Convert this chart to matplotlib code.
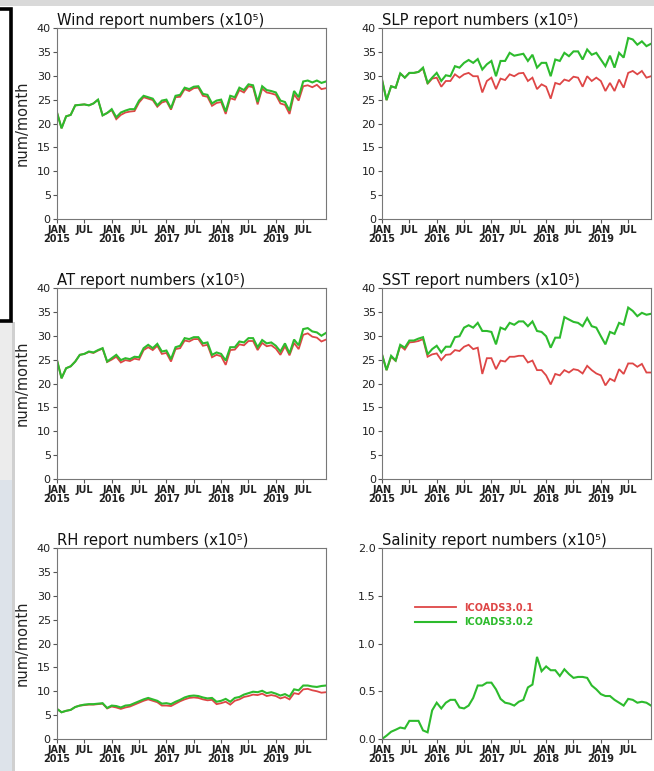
import matplotlib
matplotlib.use("Agg")
import matplotlib.pyplot as plt
from matplotlib import font_manager
from matplotlib.patches import Rectangle
from matplotlib.lines import Line2D
import numpy as np

# ---------------- data ----------------
months = np.arange(60)  # Jan 2015 .. Dec 2019
xtick_pos = [0, 6, 12, 18, 24, 30, 36, 42, 48, 54]
xtick_labels = ["JAN\n2015", "JUL", "JAN\n2016", "JUL", "JAN\n2017", "JUL",
                "JAN\n2018", "JUL", "JAN\n2019", "JUL"]

wind_v302 = [22.3, 19.0, 21.5, 21.8, 23.8, 23.9, 24.0, 23.8, 24.2, 25.0,
             21.7, 22.2, 23.0, 21.3, 22.3, 22.7, 23.0, 23.0, 24.8, 25.8,
             25.5, 25.2, 23.8, 24.8, 25.0, 23.2, 25.8, 26.0, 27.5, 27.2,
             27.7, 27.8, 26.2, 26.0, 24.2, 24.8, 25.0, 22.5, 25.8, 25.5,
             27.5, 27.0, 28.2, 28.0, 24.5, 27.8, 27.0, 26.8, 26.5, 24.8,
             24.5, 22.7, 26.8, 25.5, 28.8, 29.0, 28.6, 29.0, 28.5, 28.8]
wind_v301 = [22.3, 19.0, 21.5, 21.8, 23.8, 23.9, 24.0, 23.8, 24.2, 25.0,
             21.7, 22.2, 22.8, 20.9, 21.8, 22.3, 22.5, 22.6, 24.4, 25.5,
             25.2, 24.9, 23.5, 24.4, 24.7, 22.9, 25.5, 25.6, 27.2, 26.8,
             27.4, 27.5, 25.8, 25.6, 23.7, 24.3, 24.5, 22.0, 25.3, 25.0,
             27.0, 26.5, 27.8, 27.6, 24.0, 27.3, 26.5, 26.3, 26.0, 24.2,
             23.9, 22.0, 26.1, 24.8, 27.8, 28.0, 27.6, 28.1, 27.2, 27.4]

slp_v302 = [29.2, 24.9, 27.8, 27.5, 30.5, 29.6, 30.6, 30.6, 30.8, 31.7,
            28.5, 29.6, 30.6, 28.9, 30.1, 29.9, 32.0, 31.7, 32.7, 33.3,
            32.7, 33.5, 31.3, 32.4, 33.1, 29.9, 33.1, 33.1, 34.8, 34.2,
            34.4, 34.6, 33.1, 34.4, 31.7, 32.7, 32.7, 29.9, 33.4, 33.1,
            34.8, 34.1, 35.1, 35.1, 33.4, 35.5, 34.4, 34.8, 33.4, 32.0,
            34.2, 31.7, 34.8, 33.8, 37.9, 37.6, 36.5, 37.2, 36.2, 36.7]
slp_v301 = [29.2, 24.9, 27.8, 27.5, 30.5, 29.6, 30.6, 30.6, 30.8, 31.5,
            28.3, 29.4, 29.6, 27.7, 28.9, 28.9, 30.3, 29.6, 30.3, 30.6,
            29.9, 29.9, 26.5, 28.9, 29.6, 27.2, 29.4, 29.1, 30.3, 29.9,
            30.5, 30.6, 28.9, 29.6, 27.2, 28.2, 27.7, 25.2, 28.5, 28.2,
            29.2, 28.9, 29.8, 29.6, 27.7, 29.9, 28.9, 29.6, 28.9, 26.8,
            28.5, 26.8, 29.2, 27.5, 30.6, 31.0, 30.3, 31.0, 29.6, 29.9]

at_v302 = [24.9, 21.1, 23.2, 23.6, 24.6, 26.0, 26.2, 26.7, 26.5, 27.0,
           27.4, 24.6, 25.3, 26.0, 24.9, 25.3, 25.1, 25.6, 25.5, 27.4,
           28.1, 27.4, 28.3, 26.7, 26.9, 25.1, 27.6, 27.9, 29.5, 29.3,
           29.7, 29.7, 28.4, 28.6, 26.0, 26.5, 26.2, 24.8, 27.6, 27.6,
           28.8, 28.6, 29.5, 29.5, 27.6, 29.1, 28.4, 28.6, 27.9, 26.7,
           28.4, 26.3, 29.2, 28.0, 31.4, 31.6, 30.9, 30.7, 30.0, 30.6]
at_v301 = [24.9, 21.1, 23.2, 23.6, 24.6, 26.0, 26.2, 26.6, 26.4, 26.9,
           27.3, 24.5, 25.0, 25.6, 24.4, 24.9, 24.7, 25.2, 25.0, 27.0,
           27.6, 27.0, 27.9, 26.2, 26.4, 24.6, 27.2, 27.4, 29.0, 28.8,
           29.3, 29.3, 27.9, 28.1, 25.5, 26.0, 25.7, 23.9, 27.0, 27.1,
           28.2, 28.0, 28.9, 28.9, 27.0, 28.5, 27.8, 28.0, 27.3, 26.0,
           27.8, 25.9, 28.5, 27.2, 30.2, 30.5, 29.8, 29.6, 28.8, 29.2]

sst_v302 = [26.1, 22.8, 25.8, 24.8, 28.1, 27.5, 29.0, 29.0, 29.4, 29.7,
            26.1, 27.2, 27.9, 26.5, 27.7, 27.7, 29.7, 29.9, 31.7, 32.2,
            31.7, 32.7, 31.0, 31.0, 30.8, 28.2, 31.7, 31.3, 32.7, 32.3,
            33.0, 33.0, 32.0, 33.0, 31.0, 30.8, 29.9, 27.5, 29.6, 29.6,
            33.9, 33.4, 32.9, 32.7, 32.0, 33.7, 32.0, 31.7, 29.9, 28.2,
            30.8, 30.4, 32.7, 32.3, 35.9, 35.2, 34.1, 34.8, 34.4, 34.6]
sst_v301 = [26.1, 22.8, 25.6, 24.7, 27.9, 27.1, 28.6, 28.7, 28.9, 29.3,
            25.6, 26.1, 26.3, 24.9, 26.0, 26.1, 27.0, 26.8, 27.7, 28.1,
            27.2, 27.5, 22.0, 25.3, 25.3, 23.0, 24.8, 24.6, 25.6, 25.6,
            25.8, 25.8, 24.4, 24.8, 22.8, 22.8, 21.7, 19.8, 22.0, 21.7,
            22.8, 22.3, 23.0, 22.8, 22.1, 23.7, 22.8, 22.1, 21.7, 19.6,
            21.0, 20.5, 23.0, 22.0, 24.2, 24.2, 23.5, 24.1, 22.3, 22.3]

rh_v302 = [6.3, 5.6, 5.9, 6.1, 6.7, 7.0, 7.2, 7.3, 7.3, 7.4,
           7.5, 6.5, 7.0, 6.9, 6.6, 7.0, 7.1, 7.5, 7.9, 8.3,
           8.6, 8.3, 8.0, 7.4, 7.5, 7.3, 7.8, 8.2, 8.7, 9.0,
           9.1, 9.0, 8.7, 8.5, 8.6, 7.8, 8.0, 8.4, 7.8, 8.6,
           8.8, 9.3, 9.6, 9.9, 9.8, 10.1, 9.6, 9.8, 9.5, 9.1,
           9.4, 8.9, 10.4, 10.2, 11.2, 11.2, 11.0, 10.9, 11.1, 11.2]
rh_v301 = [6.3, 5.6, 5.9, 6.1, 6.7, 7.0, 7.1, 7.2, 7.2, 7.3,
           7.4, 6.4, 6.8, 6.6, 6.3, 6.6, 6.8, 7.2, 7.6, 8.0,
           8.3, 8.0, 7.7, 7.0, 7.0, 6.9, 7.4, 7.9, 8.3, 8.6,
           8.7, 8.6, 8.3, 8.1, 8.2, 7.3, 7.5, 7.8, 7.2, 8.0,
           8.3, 8.8, 9.0, 9.3, 9.2, 9.5, 9.0, 9.2, 9.0, 8.5,
           8.8, 8.3, 9.6, 9.4, 10.4, 10.5, 10.2, 10.0, 9.7, 9.8]

sal_v302 = [0.00, 0.035, 0.076, 0.097, 0.12, 0.11, 0.19, 0.19, 0.19, 0.09,
            0.07, 0.30, 0.38, 0.32, 0.38, 0.41, 0.41, 0.33, 0.32, 0.35,
            0.43, 0.56, 0.56, 0.59, 0.59, 0.52, 0.42, 0.38, 0.37, 0.35,
            0.39, 0.41, 0.54, 0.57, 0.86, 0.71, 0.76, 0.72, 0.72, 0.66,
            0.73, 0.68, 0.64, 0.65, 0.65, 0.64, 0.56, 0.52, 0.47, 0.45,
            0.45, 0.41, 0.38, 0.35, 0.42, 0.41, 0.38, 0.39, 0.38, 0.35]

titles = ["Wind report numbers (x10\u2075)", "SLP report numbers (x10\u2075)",
          "AT report numbers (x10\u2075)", "SST report numbers (x10\u2075)",
          "RH report numbers (x10\u2075)", "Salinity report numbers (x10\u2075)"]
legend_labels = ["ICOADS3.0.1", "ICOADS3.0.2"]

# ---------------- style ----------------
RED = "#de4646"
GREEN = "#2dbb2d"
names = {f.name for f in font_manager.fontManager.ttflist}
NARROW = "Liberation Sans Narrow" if "Liberation Sans Narrow" in names else "DejaVu Sans"
W, H = 654, 771

fig = plt.figure(figsize=(W / 100, H / 100), dpi=100, facecolor="white")

# screenshot-like surroundings
def px_rect(x0, y0, x1, y1, **kw):
    fig.add_artist(Rectangle((x0 / W, 1 - y1 / H), (x1 - x0) / W, (y1 - y0) / H,
                             transform=fig.transFigure, **kw))

px_rect(0, 0, W, 6, facecolor="#d9d9d9", edgecolor="none")
px_rect(0, 322, 13, 480, facecolor="#ececec", edgecolor="none")
px_rect(0, 480, 13, H, facecolor="#dde3ea", edgecolor="none")
px_rect(12, 322, 15, H, facecolor="#d0d0d0", edgecolor="none")
px_rect(-6, 9, 11, 321, facecolor="white", edgecolor="black", linewidth=2.6)

col_x = [57, 382]
row_y = [28, 288, 548]
ax_w, ax_h = 269, 191

panels = [
    (titles[0], wind_v301, wind_v302, 40, 5),
    (titles[1], slp_v301, slp_v302, 40, 5),
    (titles[2], at_v301, at_v302, 40, 5),
    (titles[3], sst_v301, sst_v302, 40, 5),
    (titles[4], rh_v301, rh_v302, 40, 5),
    (titles[5], None, sal_v302, 2.0, 0.5),
]

for i, (title, s301, s302, ymax, ystep) in enumerate(panels):
    r, c = divmod(i, 2)
    x0, y0 = col_x[c], row_y[r]
    ax = fig.add_axes([x0 / W, 1 - (y0 + ax_h) / H, ax_w / W, ax_h / H])
    if s301 is not None:
        ax.plot(months, s301, color=RED, lw=1.3, solid_joinstyle="miter")
    ax.plot(months, s302, color=GREEN, lw=1.5, solid_joinstyle="miter")
    ax.set_xlim(0, 59)
    ax.set_ylim(0, ymax)
    yt = np.arange(0, ymax + ystep / 2, ystep)
    ax.set_yticks(yt)
    if ymax == 2.0:
        ax.set_yticklabels([f"{v:.1f}" for v in yt])
    else:
        ax.set_yticklabels([f"{int(v)}" for v in yt])
    ax.set_xticks(xtick_pos)
    ax.set_xticklabels(xtick_labels, linespacing=0.9)
    for lab in ax.get_xticklabels():
        lab.set_fontfamily(NARROW)
        lab.set_fontsize(7)
        lab.set_fontweight("bold")
        lab.set_color("#222222")
    for lab in ax.get_yticklabels():
        lab.set_fontfamily(NARROW)
        lab.set_fontsize(8)
        lab.set_color("#222222")
    ax.tick_params(direction="out", length=3, width=0.8, color="#555555", pad=1.5)
    for sp in ax.spines.values():
        sp.set_color("#777777")
        sp.set_linewidth(0.8)
    ax.set_title(title, loc="left", fontsize=10.6, pad=2, color="#111111",
                 family="DejaVu Sans")
    if c == 0:
        ax.set_ylabel("num/month", fontsize=10.5, color="#222222", labelpad=5)
    if i == 5:
        handles = [Line2D([], [], color=RED, lw=1.3), Line2D([], [], color=GREEN, lw=1.5)]
        leg = ax.legend(handles, legend_labels, loc="upper left",
                        bbox_to_anchor=(0.09, 0.76), frameon=False,
                        handlelength=4.2, handletextpad=0.9, labelspacing=0.45,
                        prop={"family": NARROW, "size": 7, "weight": "bold"})
        for t, col in zip(leg.get_texts(), [RED, GREEN]):
            t.set_color(col)

fig.savefig("out.png", dpi=100, facecolor=fig.get_facecolor())
